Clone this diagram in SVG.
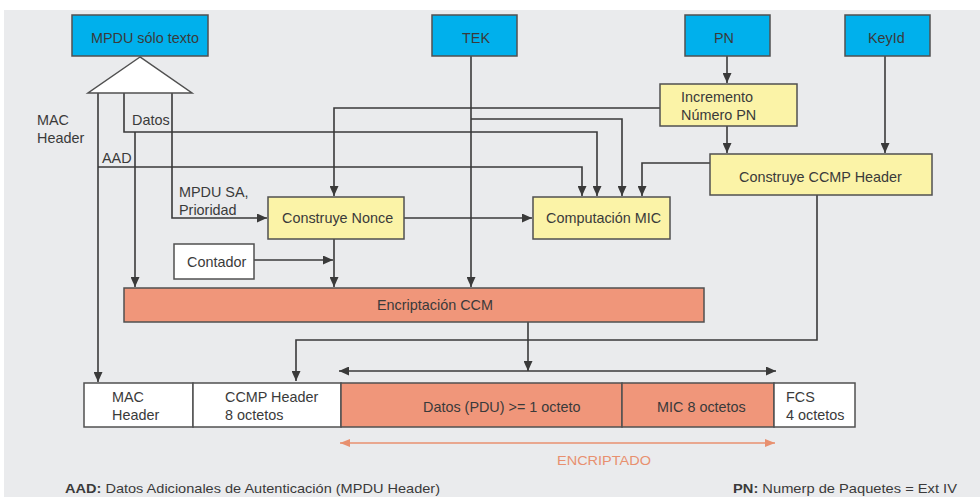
<svg xmlns="http://www.w3.org/2000/svg" width="980" height="497" viewBox="0 0 980 497">
  <defs>
    <marker id="ah" markerUnits="userSpaceOnUse" markerWidth="10" markerHeight="9" refX="10" refY="4.5" orient="auto">
      <path d="M0,0 L10,4.5 L0,9 z" fill="#3a3a3a"/>
    </marker>
    <marker id="ahs" markerUnits="userSpaceOnUse" markerWidth="10" markerHeight="9" refX="0" refY="4.5" orient="auto">
      <path d="M10,0 L0,4.5 L10,9 z" fill="#3a3a3a"/>
    </marker>
    <marker id="oh" markerUnits="userSpaceOnUse" markerWidth="10" markerHeight="8" refX="10" refY="4" orient="auto">
      <path d="M0,0 L10,4 L0,8 z" fill="#e8906f"/>
    </marker>
    <marker id="ohs" markerUnits="userSpaceOnUse" markerWidth="10" markerHeight="8" refX="0" refY="4" orient="auto">
      <path d="M10,0 L0,4 L10,8 z" fill="#e8906f"/>
    </marker>
  </defs>
  <style>
    text { font-family: "Liberation Sans", Arial, sans-serif; font-size: 14.4px; fill: #3a3a3a; }
    .box { stroke: #505050; stroke-width: 1.5; }
    .blue { fill: #00b0ec; }
    .yel { fill: #fbf3a7; }
    .sal { fill: #f0967a; }
    .wht { fill: #ffffff; }
    .ln { fill: none; stroke: #3a3a3a; stroke-width: 1.6; }
    .arr { marker-end: url(#ah); }
    .foot { font-size: 13px; }
    .b { font-weight: bold; }
  </style>

  <!-- page -->
  <rect x="0" y="0" width="980" height="497" fill="#ffffff"/>
  <rect x="4" y="10" width="976" height="487" fill="#eaebed"/>

  <!-- connectors -->
  <g id="connectors">
    <!-- MPDU split: MAC header -->
    <path class="ln arr" d="M98,93 V382"/>
    <!-- AAD -->
    <path class="ln arr" d="M98,167 H582 V196"/>
    <!-- Datos -->
    <path class="ln arr" d="M124,93 V132 H597 V196"/>
    <path class="ln arr" d="M135,132 V287"/>
    <!-- MPDU SA, Prioridad -->
    <path class="ln arr" d="M172,93 V218 H267"/>
    <!-- TEK -->
    <path class="ln arr" d="M471,56 V287"/>
    <path class="ln arr" d="M471,119 H622 V196"/>
    <!-- PN -->
    <path class="ln arr" d="M727,56 V83"/>
    <path class="ln arr" d="M660,108 H334 V196"/>
    <path class="ln arr" d="M727,126 V153"/>
    <!-- KeyId -->
    <path class="ln arr" d="M885,56 V153"/>
    <!-- CCMP Header -->
    <path class="ln arr" d="M710,163 H642 V196"/>
    <path class="ln arr" d="M817,195 V340 H296 V381"/>
    <!-- Nonce -->
    <path class="ln arr" d="M404,218 H532"/>
    <path class="ln arr" d="M334,239 V287"/>
    <!-- Contador -->
    <path class="ln arr" d="M254,260 H333"/>
    <!-- CCM output -->
    <path class="ln arr" d="M528,322 V371"/>
    <path class="ln" d="M339,371 H776" marker-start="url(#ahs)" marker-end="url(#ah)"/>
    <!-- encrypted span -->
    <path d="M340,443 H775" fill="none" stroke="#e8906f" stroke-width="1.6" marker-start="url(#ohs)" marker-end="url(#oh)"/>
  </g>

  <!-- inputs -->
  <g id="mpdu">
    <rect class="box blue" x="72" y="15" width="136" height="41"/>
    <text x="91" y="43">MPDU sólo texto</text>
    <polygon points="140,57 88,93 192,93" fill="#ffffff" stroke="#505050" stroke-width="1.5"/>
  </g>
  <g id="tek">
    <rect class="box blue" x="432" y="15" width="85" height="41"/>
    <text x="462" y="43">TEK</text>
  </g>
  <g id="pn">
    <rect class="box blue" x="685" y="15" width="85" height="41"/>
    <text x="714" y="43">PN</text>
  </g>
  <g id="keyid">
    <rect class="box blue" x="845" y="15" width="85" height="41"/>
    <text x="868" y="43">KeyId</text>
  </g>

  <!-- processing -->
  <g id="incremento">
    <rect class="box yel" x="660" y="84" width="137" height="42"/>
    <text x="681" y="102">Incremento</text>
    <text x="681" y="120">Número PN</text>
  </g>
  <g id="ccmp-header">
    <rect class="box yel" x="710" y="154" width="222" height="41"/>
    <text x="739" y="182">Construye CCMP Header</text>
  </g>
  <g id="nonce">
    <rect class="box yel" x="268" y="197" width="136" height="42"/>
    <text x="282" y="223">Construye Nonce</text>
  </g>
  <g id="mic">
    <rect class="box yel" x="533" y="197" width="137" height="42"/>
    <text x="546" y="223">Computación MIC</text>
  </g>
  <g id="contador">
    <rect class="box wht" x="174" y="244" width="80" height="35"/>
    <text x="187" y="267">Contador</text>
  </g>
  <g id="ccm">
    <rect class="box sal" x="124" y="288" width="580" height="34"/>
    <text x="377" y="310">Encriptación CCM</text>
  </g>

  <!-- edge labels -->
  <g id="labels">
    <text x="37" y="125">MAC</text>
    <text x="37" y="143">Header</text>
    <text x="132" y="125">Datos</text>
    <text x="102" y="163">AAD</text>
    <text x="179" y="197">MPDU SA,</text>
    <text x="179" y="215">Prioridad</text>
  </g>

  <!-- output frame -->
  <g id="frame">
    <rect class="box wht" x="84" y="383" width="109" height="44"/>
    <text x="112" y="402">MAC</text>
    <text x="112" y="420">Header</text>
    <rect class="box wht" x="193" y="383" width="148" height="44"/>
    <text x="225" y="402">CCMP Header</text>
    <text x="225" y="420">8 octetos</text>
    <rect class="box sal" x="341" y="383" width="281" height="44"/>
    <text x="423" y="412">Datos (PDU) &gt;= 1 octeto</text>
    <rect class="box sal" x="622" y="383" width="152" height="44"/>
    <text x="657" y="412">MIC 8 octetos</text>
    <rect class="box wht" x="774" y="383" width="81" height="44"/>
    <text x="786" y="402">FCS</text>
    <text x="786" y="420">4 octetos</text>
  </g>

  <text x="557" y="465" style="fill:#e8906f;font-size:13px" textLength="94" lengthAdjust="spacingAndGlyphs">ENCRIPTADO</text>

  <!-- legend -->
  <text class="foot" x="65" y="493" textLength="375" lengthAdjust="spacingAndGlyphs"><tspan class="b">AAD:</tspan> Datos Adicionales de Autenticación (MPDU Header)</text>
  <text class="foot" x="733" y="493" textLength="224" lengthAdjust="spacingAndGlyphs"><tspan class="b">PN:</tspan> Numerp de Paquetes = Ext IV</text>
</svg>
